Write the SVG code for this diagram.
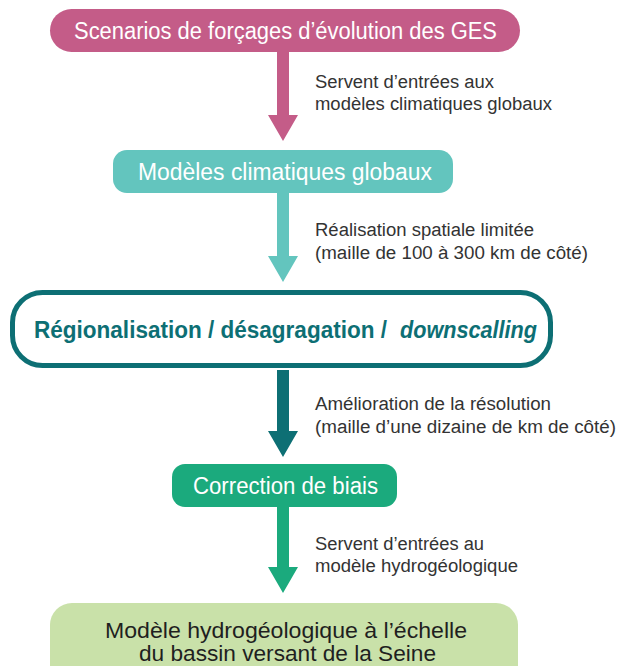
<svg xmlns="http://www.w3.org/2000/svg" width="618" height="666" viewBox="0 0 618 666">
<style>
.t{font-family:"Liberation Sans",Arial,sans-serif;}
.w{fill:#ffffff;font-size:23px;}
.lab{fill:#333333;font-size:18px;}
.dark{fill:#0d6f74;font-size:23px;font-weight:bold;}
.blk{fill:#1f1f1f;font-size:22px;}
</style>
<rect width="618" height="666" fill="#ffffff"/>
<g id="connectors">
  <polygon points="277,52 289,52 289,115 298,115 283,141 268,115 277,115" fill="#c45c88"/>
  <polygon points="277,193 289,193 289,256 298,256 283,282 268,256 277,256" fill="#63c5be"/>
  <polygon points="277,370 289,370 289,431 298,431 283,457 268,431 277,431" fill="#0d6f74"/>
  <polygon points="277,507 289,507 289,567 298,567 283,593 268,567 277,567" fill="#1baa7d"/>
  <text class="t lab" x="315" y="88" textLength="179" lengthAdjust="spacingAndGlyphs">Servent d’entrées aux</text>
  <text class="t lab" x="315" y="110" textLength="237" lengthAdjust="spacingAndGlyphs">modèles climatiques globaux</text>
  <text class="t lab" x="315" y="236" textLength="219" lengthAdjust="spacingAndGlyphs">Réalisation spatiale limitée</text>
  <text class="t lab" x="315" y="259" textLength="273" lengthAdjust="spacingAndGlyphs">(maille de 100 à 300 km de côté)</text>
  <text class="t lab" x="315" y="410" textLength="236" lengthAdjust="spacingAndGlyphs">Amélioration de la résolution</text>
  <text class="t lab" x="315" y="433" textLength="301" lengthAdjust="spacingAndGlyphs">(maille d’une dizaine de km de côté)</text>
  <text class="t lab" x="315" y="550" textLength="169" lengthAdjust="spacingAndGlyphs">Servent d’entrées au</text>
  <text class="t lab" x="315" y="572" textLength="203" lengthAdjust="spacingAndGlyphs">modèle hydrogéologique</text>
</g>
<g id="n1">
  <rect x="50" y="9" width="470" height="43" rx="21.5" fill="#c45c88"/>
  <text class="t w" x="74" y="39" textLength="423" lengthAdjust="spacingAndGlyphs">Scenarios de forçages d’évolution des GES</text>
</g>
<g id="n2">
  <rect x="113" y="150" width="340" height="43" rx="14" fill="#63c5be"/>
  <text class="t w" x="138" y="180" textLength="294" lengthAdjust="spacingAndGlyphs">Modèles climatiques globaux</text>
</g>
<g id="n3">
  <rect x="12.5" y="292.5" width="538" height="73" rx="30" fill="#ffffff" stroke="#0d6f74" stroke-width="5"/>
  <text class="t dark" x="34" y="338" textLength="353" lengthAdjust="spacingAndGlyphs">Régionalisation / désagragation /</text>
  <text class="t dark" x="400" y="338" textLength="137" lengthAdjust="spacingAndGlyphs" font-style="italic">downscalling</text>
</g>
<g id="n4">
  <rect x="172" y="464" width="225" height="43" rx="13" fill="#1baa7d"/>
  <text class="t w" x="193" y="494" textLength="185" lengthAdjust="spacingAndGlyphs">Correction de biais</text>
</g>
<g id="n5">
  <rect x="50" y="603" width="468" height="85" rx="22" fill="#c9e1a9"/>
  <text class="t blk" x="105" y="638" textLength="362" lengthAdjust="spacingAndGlyphs">Modèle hydrogéologique à l’échelle</text>
  <text class="t blk" x="139" y="661" textLength="297" lengthAdjust="spacingAndGlyphs">du bassin versant de la Seine</text>
</g>
</svg>
